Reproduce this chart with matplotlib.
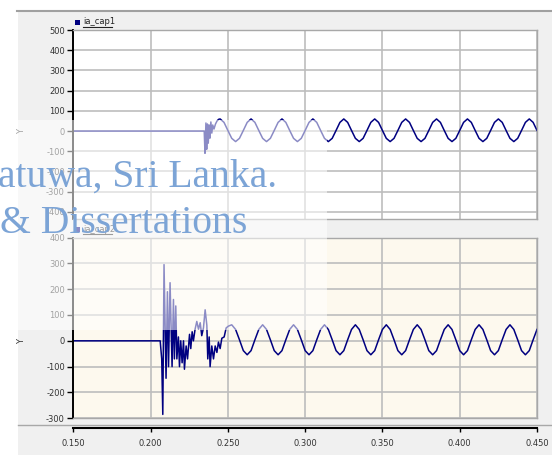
import numpy as np
import matplotlib
matplotlib.use("Agg")
import matplotlib.pyplot as plt
from matplotlib.patches import Rectangle
from matplotlib.lines import Line2D

W, H = 552, 458

# ia_cap1 : transient part (time, value) then 50 Hz steady part sampled every 2.5 ms
cap1_t = [0.150, 0.2347, 0.2352, 0.2358, 0.2363, 0.2368, 0.2373, 0.2379,
          0.2384, 0.2390, 0.2396, 0.2402, 0.2410, 0.2420, 0.2430, 0.2440]
cap1_v = [0, 0, -110, 40, -90, 35, -60, 30, -35, 45, -10, 30, 10, 35, 50, 58]
cap1_ss_start = 0.245
cap1_ss = [60, 43, 3, -36, -52, -36, 3, 43,
           60, 43, 3, -36, -52, -36, 3, 43,
           60, 43, 3, -36, -52, -36, 3, 43,
           60, 43, 3, -36, -52, -36, 3, 43,
           60, 43, 3, -36, -52, -36, 3, 43,
           60, 43, 3, -36, -52, -36, 3, 43,
           60, 43, 3, -36, -52, -36, 3, 43,
           60, 43, 3, -36, -52, -36, 3, 43,
           60, 43, 3, -36, -52, -36, 3, 43,
           60, 43, 3, -36, -52, -36, 3, 43,
           60, 43, 3]

# ia_cap2
cap2_t = [0.150, 0.2062, 0.2072, 0.2079, 0.2087, 0.2100, 0.2109, 0.2116,
          0.2126, 0.2139, 0.2148, 0.2154, 0.2163, 0.2170, 0.2180, 0.2187,
          0.2195, 0.2204, 0.2213, 0.2219, 0.2230, 0.2239, 0.2252, 0.2260,
          0.2269, 0.2277, 0.2288, 0.2299, 0.2310, 0.2321, 0.2331, 0.2342,
          0.2353, 0.2364, 0.2370, 0.2379, 0.2385, 0.2396, 0.2407, 0.2418,
          0.2429, 0.2439, 0.2450, 0.2461, 0.2476, 0.2489, 0.2504]
cap2_v = [0, 0, -70, -285, 295, -145, 190, -100,
          225, -100, 160, -70, 135, -70, 15, -100,
          0, -85, 0, -110, -20, -70, 25, -30,
          35, 0, 45, 75, 45, 70, 20, 50,
          120, 60, -70, 15, -100, -20, -70, -20,
          -45, -5, -30, 10, 15, 50, 57]
cap2_ss_start = 0.2525
cap2_ss = [62, 44, 4, -38, -54, -38, 4, 44,
           62, 44, 4, -38, -54, -38, 4, 44,
           62, 44, 4, -38, -54, -38, 4, 44,
           62, 44, 4, -38, -54, -38, 4, 44,
           62, 44, 4, -38, -54, -38, 4, 44,
           62, 44, 4, -38, -54, -38, 4, 44,
           62, 44, 4, -38, -54, -38, 4, 44,
           62, 44, 4, -38, -54, -38, 4, 44,
           62, 44, 4, -38, -54, -38, 4, 44,
           62, 44, 4, -38, -54, -38, 4, 44]
ss_dt = 0.0025

x_ticks = [0.150, 0.200, 0.250, 0.300, 0.350, 0.400, 0.450]
top_yticks = [-400, -300, -200, -100, 0, 100, 200, 300, 400, 500]
bot_yticks = [-300, -200, -100, 0, 100, 200, 300, 400]
names = ["ia_cap1", "ia_cap2"]


def px(x0, y0, x1, y1):
    return [x0 / W, 1 - y1 / H, (x1 - x0) / W, (y1 - y0) / H]


def series(t, v, start, ss):
    ts = start + ss_dt * np.arange(len(ss))
    return np.concatenate([t, ts]), np.concatenate([v, ss])


fig = plt.figure(figsize=(W / 100, H / 100), dpi=100)
fig.patch.set_facecolor("white")
fig.patches.append(Rectangle((18 / W, 1 - 455 / H), 534 / W, 444 / H, transform=fig.transFigure,
                             facecolor="#f0f0f0", edgecolor="none", zorder=-10))
fig.lines.append(Line2D([17 / W, 1], [1 - 11 / H] * 2, transform=fig.transFigure, color="#a0a0a0", lw=1.5))
fig.lines.append(Line2D([18 / W, 1], [1 - 424.5 / H] * 2, transform=fig.transFigure, color="#a8a8a8", lw=1.0))

line_col = "#000080"
panels = [
    (px(73.3, 30, 537, 219), (-435, 500), top_yticks, "white", series(cap1_t, cap1_v, cap1_ss_start, cap1_ss), 131),
    (px(73.3, 237.5, 537, 418.3), (-300, 400), bot_yticks, "#fdf9ee", series(cap2_t, cap2_v, cap2_ss_start, cap2_ss), 341),
]
for i, (rect, ylim, yt, bg, (t, v), ylab_y) in enumerate(panels):
    ax = fig.add_axes(rect)
    ax.set_facecolor(bg)
    ax.plot(t, v, color=line_col, lw=1.1)
    ax.set_xlim(0.15, 0.45)
    ax.set_ylim(*ylim)
    ax.set_xticks(x_ticks)
    ax.set_yticks(yt)
    ax.set_yticklabels([str(y) for y in yt])
    ax.grid(color="#bdbdbd", lw=1.2)
    ax.set_axisbelow(True)
    for s in ["top", "right", "bottom"]:
        ax.spines[s].set_color("#a8a8a8")
        ax.spines[s].set_linewidth(1.0)
    ax.spines["left"].set_color("black")
    ax.spines["left"].set_linewidth(1.4)
    ax.tick_params(axis="x", length=0, labelbottom=False)
    ax.tick_params(axis="y", length=4, width=1, color="black", labelsize=6, labelcolor="#333333", pad=2)
    fig.text(22 / W, 1 - ylab_y / H, "Y", rotation=90, fontsize=6, color="#333333", ha="center", va="center")
    # legend
    ly = rect[1] + rect[3] + 8 / H
    fig.patches.append(Rectangle((75 / W, ly - 2.5 / H), 5 / W, 5 / H, transform=fig.transFigure,
                                 facecolor=line_col, edgecolor="none"))
    fig.text(83 / W, ly, names[i], fontsize=6, color="#222222", va="center")
    fig.lines.append(Line2D([83 / W, 112 / W], [ly - 4.5 / H] * 2, transform=fig.transFigure, color="#222222", lw=0.8))

# shared x axis
axx = fig.add_axes(px(73.3, 420, 537, 428))
axx.set_facecolor("none")
axx.set_xlim(0.15, 0.45)
axx.set_yticks([])
axx.set_xticks(x_ticks)
axx.set_xticklabels(["%.3f" % x for x in x_ticks])
for s in ["top", "right", "left"]:
    axx.spines[s].set_visible(False)
axx.spines["bottom"].set_linewidth(1.5)
axx.tick_params(axis="x", length=3, width=1, labelsize=6, labelcolor="#333333", pad=5)

# watermark
fig.patches.append(Rectangle((0, 1 - 330 / H), 327 / W, 210 / H, transform=fig.transFigure,
                             facecolor="white", alpha=0.55, edgecolor="none", zorder=5))
wm_col = "#7ca4d6"
fig.text(277 / W, 1 - 187 / H, "atuwa, Sri Lanka.", family="Liberation Serif", fontsize=28.5,
         color=wm_col, ha="right", va="baseline", zorder=6)
fig.text(0, 1 - 233 / H, "& Dissertations", family="Liberation Serif", fontsize=28.5,
         color=wm_col, ha="left", va="baseline", zorder=6)

fig.savefig("out.png", dpi=100)
